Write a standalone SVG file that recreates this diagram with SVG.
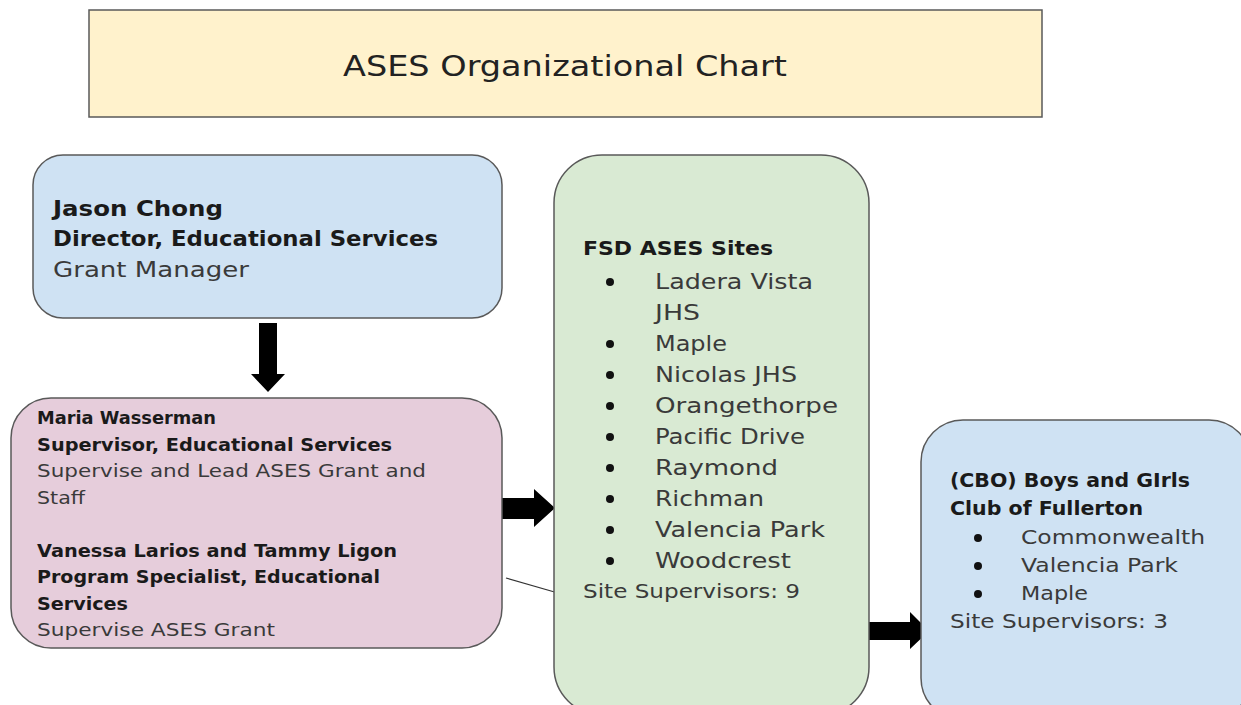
<svg xmlns="http://www.w3.org/2000/svg" width="1241" height="705" viewBox="0 0 1241 705">
<style>
.box{stroke:#595959;stroke-width:1.5}
.t{font-family:"DejaVu Sans","Liberation Sans",sans-serif}
.b{font-weight:bold;fill:#1a1a1a}
.n{fill:#3a3a3a}
.arrow{fill:#000}
.dot{fill:#111}
</style>
<rect width="1241" height="705" fill="#fff"/>
<g id="title">
<rect class="box" x="89" y="10" width="953" height="107" fill="#fff2cc"/>
<text class="t" x="343" y="76" font-size="29" textLength="444" lengthAdjust="spacingAndGlyphs" fill="#222">ASES Organizational Chart</text>
</g>
<g id="connectors">
<polygon class="arrow" points="259,323 277,323 277,374 285,374 268,392 251,374 259,374"/>
<polygon class="arrow" points="502,498 534,498 534,489 555,508 534,527 534,519 502,519"/>
<polygon class="arrow" points="868,622 910,622 910,612 929,631 910,649 910,640 868,640"/>
<line x1="506" y1="578" x2="558" y2="593" stroke="#333" stroke-width="1.2"/>
</g>
<g id="jason">
<rect class="box" x="33" y="155" width="469" height="163" rx="30" fill="#cfe2f3"/>
<text class="t b" x="53" y="216" font-size="22" textLength="170" lengthAdjust="spacingAndGlyphs">Jason Chong</text>
<text class="t b" x="53" y="246" font-size="22" textLength="385" lengthAdjust="spacingAndGlyphs">Director, Educational Services</text>
<text class="t n" x="53" y="277" font-size="22" textLength="196" lengthAdjust="spacingAndGlyphs">Grant Manager</text>
</g>
<g id="maria">
<rect class="box" x="11" y="398" width="491" height="250" rx="40" fill="#e6cddb"/>
<text class="t b" x="37" y="424" font-size="18" textLength="179" lengthAdjust="spacingAndGlyphs">Maria Wasserman</text>
<text class="t b" x="37" y="451" font-size="18" textLength="355" lengthAdjust="spacingAndGlyphs">Supervisor, Educational Services</text>
<text class="t n" x="37" y="477" font-size="18" textLength="389" lengthAdjust="spacingAndGlyphs">Supervise and Lead ASES Grant and</text>
<text class="t n" x="37" y="504" font-size="18" textLength="48" lengthAdjust="spacingAndGlyphs">Staff</text>
<text class="t b" x="37" y="557" font-size="18" textLength="360" lengthAdjust="spacingAndGlyphs">Vanessa Larios and Tammy Ligon</text>
<text class="t b" x="37" y="583" font-size="18" textLength="343" lengthAdjust="spacingAndGlyphs">Program Specialist, Educational</text>
<text class="t b" x="37" y="610" font-size="18" textLength="91" lengthAdjust="spacingAndGlyphs">Services</text>
<text class="t n" x="37" y="636" font-size="18" textLength="238" lengthAdjust="spacingAndGlyphs">Supervise ASES Grant</text>
</g>
<g id="fsd">
<rect class="box" x="554" y="155" width="315" height="560" rx="48" fill="#d9ead3"/>
<text class="t b" x="583" y="255" font-size="20" textLength="190" lengthAdjust="spacingAndGlyphs">FSD ASES Sites</text>
<g class="dot">
<circle cx="610" cy="282" r="4"/>
<circle cx="610" cy="344" r="4"/>
<circle cx="610" cy="375" r="4"/>
<circle cx="610" cy="406" r="4"/>
<circle cx="610" cy="437" r="4"/>
<circle cx="610" cy="468" r="4"/>
<circle cx="610" cy="499" r="4"/>
<circle cx="610" cy="530" r="4"/>
<circle cx="610" cy="561" r="4"/>
</g>
<text class="t n" x="655" y="289" font-size="21" textLength="158" lengthAdjust="spacingAndGlyphs">Ladera Vista</text>
<text class="t n" x="655" y="320" font-size="21" textLength="45" lengthAdjust="spacingAndGlyphs">JHS</text>
<text class="t n" x="655" y="351" font-size="21" textLength="72" lengthAdjust="spacingAndGlyphs">Maple</text>
<text class="t n" x="655" y="382" font-size="21" textLength="142" lengthAdjust="spacingAndGlyphs">Nicolas JHS</text>
<text class="t n" x="655" y="413" font-size="21" textLength="183" lengthAdjust="spacingAndGlyphs">Orangethorpe</text>
<text class="t n" x="655" y="444" font-size="21" textLength="150" lengthAdjust="spacingAndGlyphs">Pacific Drive</text>
<text class="t n" x="655" y="475" font-size="21" textLength="123" lengthAdjust="spacingAndGlyphs">Raymond</text>
<text class="t n" x="655" y="506" font-size="21" textLength="109" lengthAdjust="spacingAndGlyphs">Richman</text>
<text class="t n" x="655" y="537" font-size="21" textLength="170" lengthAdjust="spacingAndGlyphs">Valencia Park</text>
<text class="t n" x="655" y="568" font-size="21" textLength="136" lengthAdjust="spacingAndGlyphs">Woodcrest</text>
<text class="t n" x="583" y="598" font-size="20" textLength="217" lengthAdjust="spacingAndGlyphs">Site Supervisors: 9</text>
</g>
<g id="cbo">
<rect class="box" x="921" y="420" width="330" height="300" rx="42" fill="#cfe2f3"/>
<text class="t b" x="950" y="487" font-size="19" textLength="240" lengthAdjust="spacingAndGlyphs">(CBO) Boys and GIrls</text>
<text class="t b" x="950" y="515" font-size="19" textLength="193" lengthAdjust="spacingAndGlyphs">Club of Fullerton</text>
<g class="dot">
<circle cx="978" cy="538" r="4"/>
<circle cx="978" cy="566" r="4"/>
<circle cx="978" cy="594" r="4"/>
</g>
<text class="t n" x="1021" y="544" font-size="20" textLength="184" lengthAdjust="spacingAndGlyphs">Commonwealth</text>
<text class="t n" x="1021" y="572" font-size="20" textLength="157" lengthAdjust="spacingAndGlyphs">Valencia Park</text>
<text class="t n" x="1021" y="600" font-size="20" textLength="67" lengthAdjust="spacingAndGlyphs">Maple</text>
<text class="t n" x="950" y="628" font-size="20" textLength="218" lengthAdjust="spacingAndGlyphs">Site Supervisors: 3</text>
</g>
</svg>
